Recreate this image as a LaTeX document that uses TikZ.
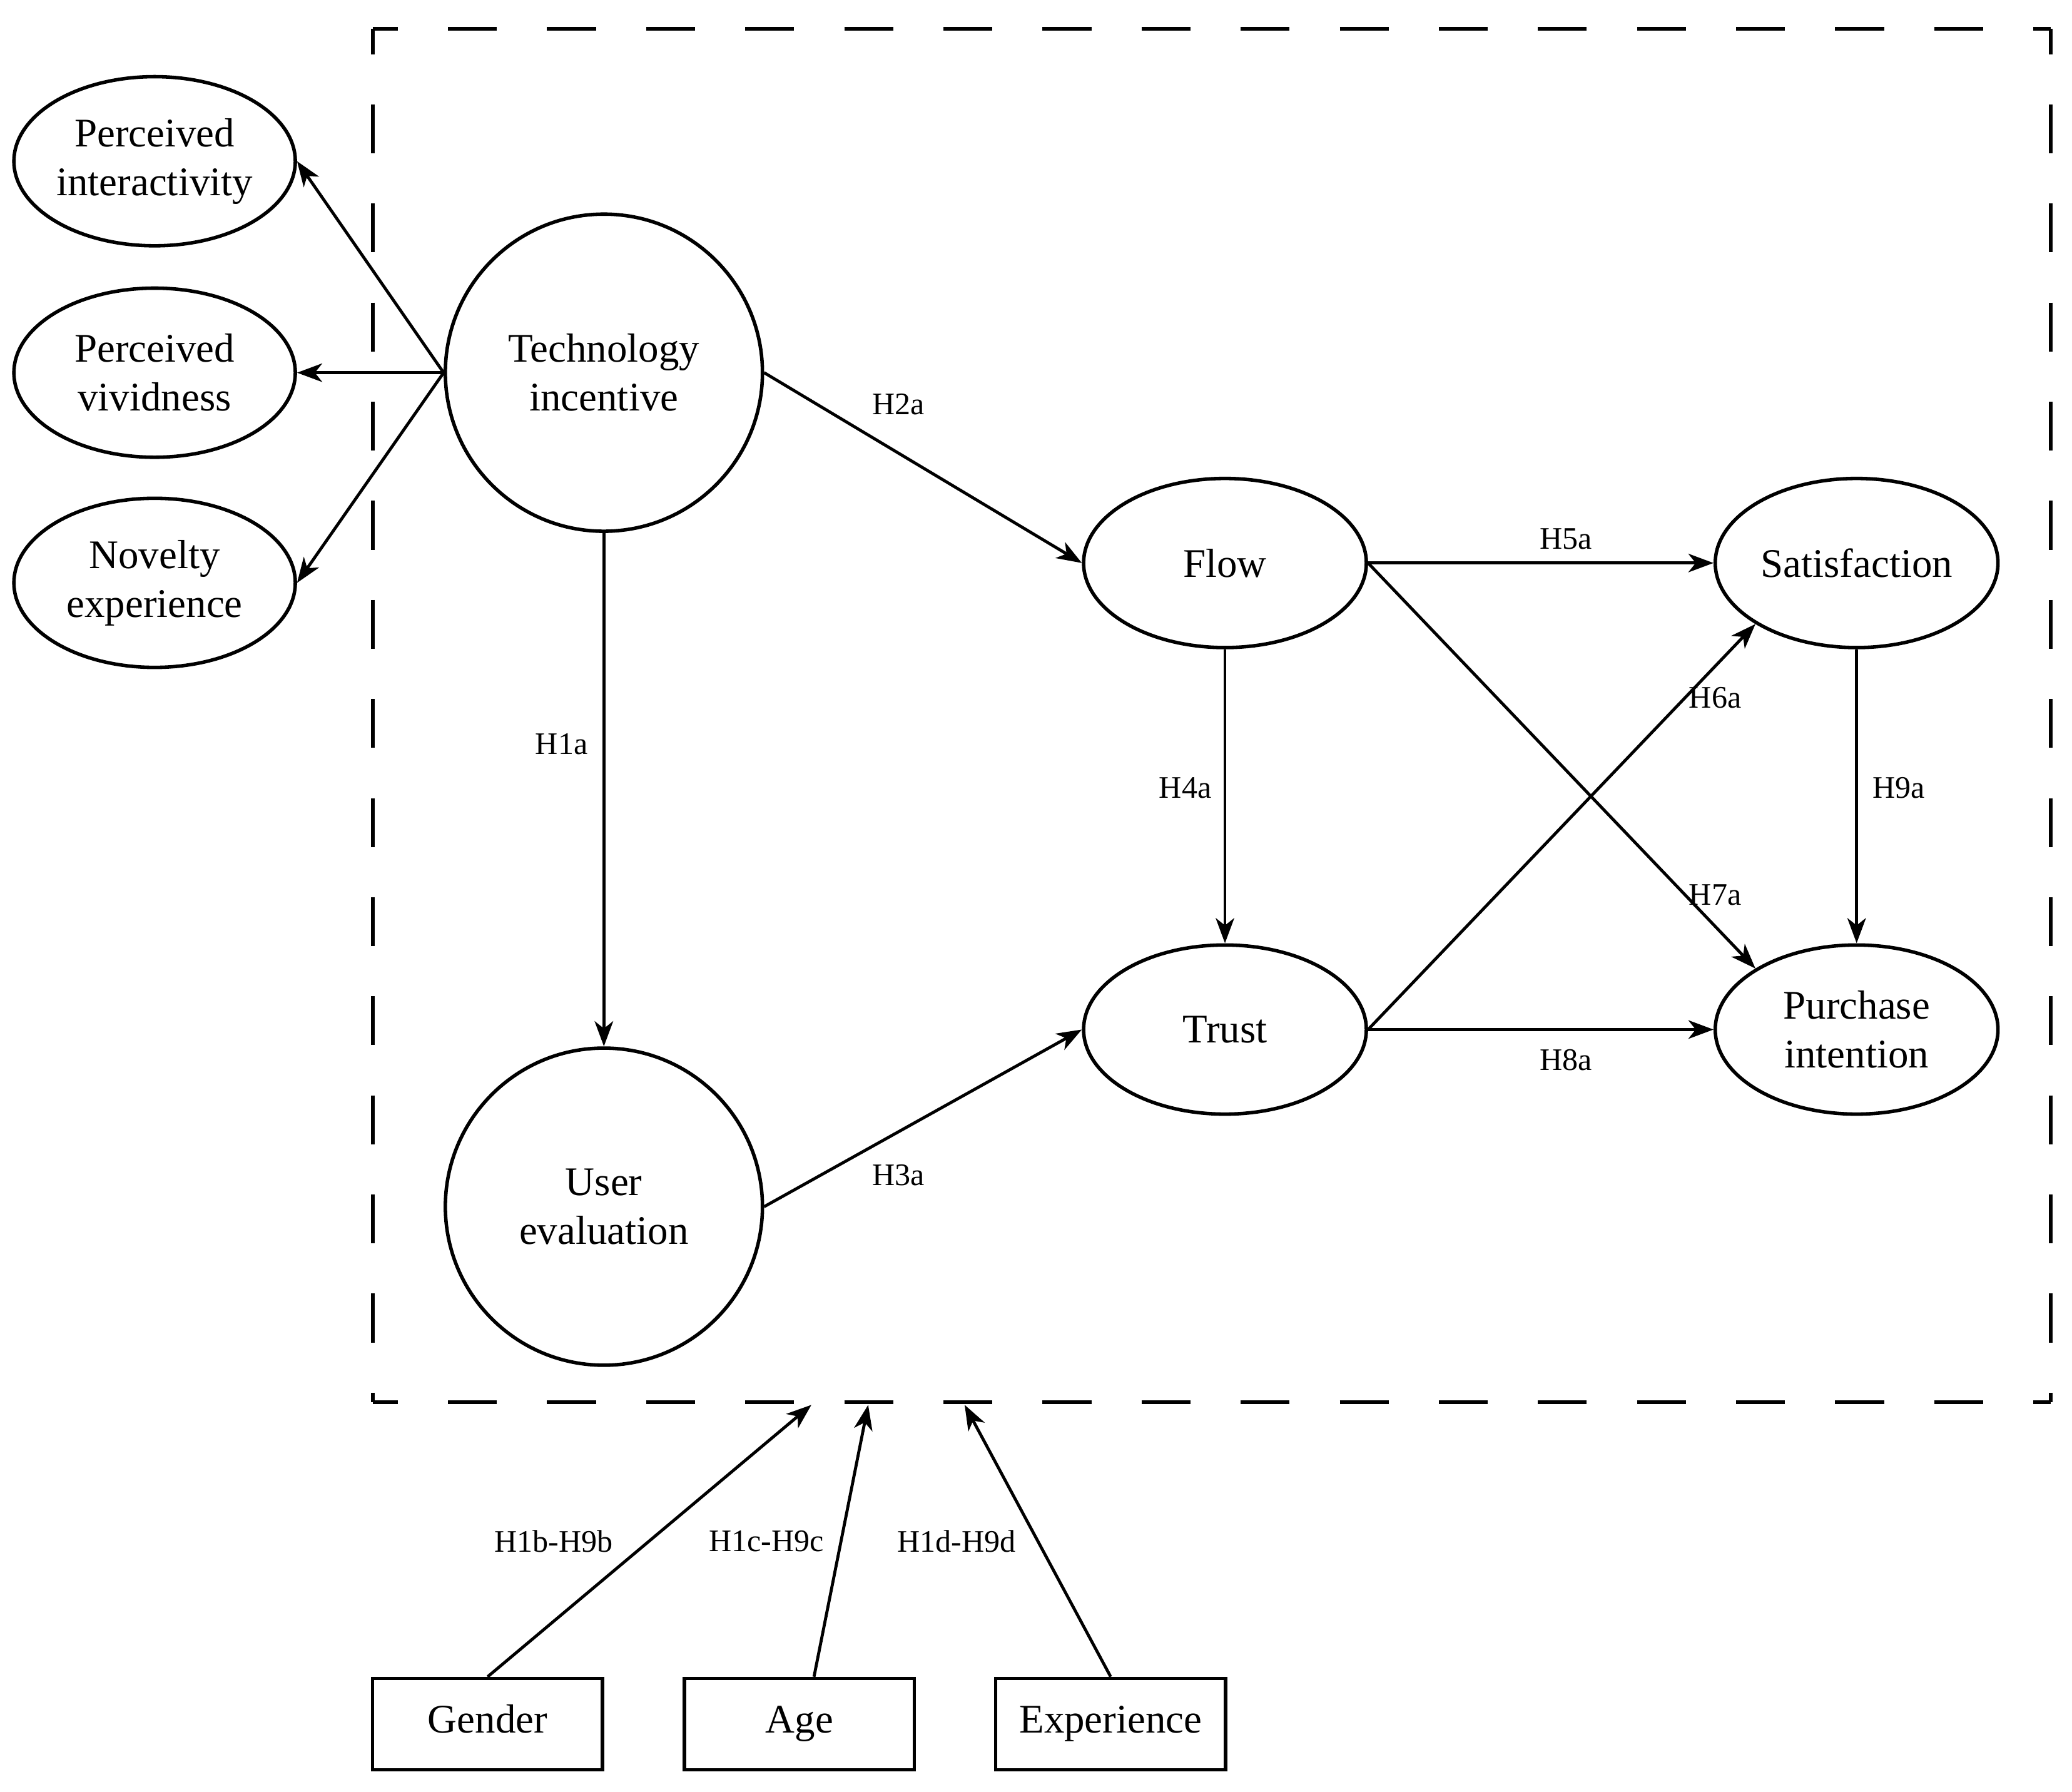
\documentclass[tikz,border=0pt]{standalone}
\usepackage{fontspec}
\setmainfont{Liberation Serif}
\usetikzlibrary{arrows.meta,shapes.geometric,calc}
\begin{document}
\begin{tikzpicture}[x=0.02cm,y=-0.02cm,
  mainfont/.style={font=\fontsize{17.5}{21}\selectfont},
  lat/.style={draw,ellipse,line width=1.5pt,minimum width=4.26cm,minimum height=2.56cm,inner sep=0pt,align=center,mainfont},
  bigc/.style={draw,circle,line width=1.5pt,minimum size=4.8cm,inner sep=0pt,align=center,mainfont},
  modbox/.style={draw,rectangle,line width=1.5pt,minimum width=3.48cm,minimum height=1.38cm,inner sep=0pt,text height=0.85em,text depth=0.09em,mainfont},
  arr/.style={-{Stealth[length=0.38cm,width=0.28cm,inset=0.11cm]},line width=1.3pt},
  hlab/.style={font=\fontsize{13.5}{16}\selectfont,inner sep=0pt},
  dashside/.style={line width=1.6pt,dash pattern=on 0.74cm off 0.76cm,dash phase=0.36cm}
]
\useasboundingbox (0,0) rectangle (1568,1355.5);

% dashed frame
\coordinate (tl) at (282,22);
\coordinate (tr) at (1552,22);
\coordinate (bl) at (282,1061);
\coordinate (br) at (1552,1061);
\draw[dashside] (tl) -- (tr);
\draw[dashside] (tl) -- (bl);
\draw[dashside] (bl) -- (br);
\draw[dashside] (tr) -- (br);

% nodes
\node[lat] (pi) at (117,122) {Perceived\\interactivity};
\node[lat] (pv) at (117,282) {Perceived\\vividness};
\node[lat] (ne) at (117,441) {Novelty\\experience};
\node[bigc] (ti) at (457,282) {Technology\\incentive};
\node[bigc] (ue) at (457,913) {User\\evaluation};
\node[lat,minimum width=4.28cm] (flow) at (927,426) {Flow};
\node[lat,minimum width=4.28cm] (trust) at (927,779) {Trust};
\node[lat,minimum width=4.28cm] (sat) at (1405,426) {Satisfaction};
\node[lat,minimum width=4.28cm] (pint) at (1405,779) {Purchase\\intention};
\node[modbox] (gen) at (369,1304.5) {Gender};
\node[modbox] (age) at (605,1304.5) {Age};
\node[modbox] (exp) at (840.5,1304.5) {Experience};

% connectors
\draw[arr] (ti.west) -- (pi.east);
\draw[arr] (ti.west) -- (pv.east);
\draw[arr] (ti.west) -- (ne.east);
\draw[arr] (ti.east) -- (flow.west);
\draw[arr] (ti.south) -- (ue.north);
\draw[arr] (ue.east) -- (trust.west);
\draw[arr] (flow.south) -- (trust.north);
\draw[arr] (flow.east) -- (sat.west);
\draw[arr] (flow.east) -- (pint.north west);
\draw[arr] (trust.east) -- (sat.south west);
\draw[arr] (trust.east) -- (pint.west);
\draw[arr] (sat.south) -- (pint.north);

\coordinate (m1) at (614,1063);
\coordinate (m2) at (657,1063);
\coordinate (m3) at (730,1063);
\draw[arr] (gen.north) -- (m1);
\draw[arr] ([xshift=0.22cm]age.north) -- (m2);
\draw[arr] (exp.north) -- (m3);

% labels
\node[hlab] (l2a) at (680,306) {H2a};
\node[hlab] (l1a) at (425,563) {H1a};
\node[hlab] (l3a) at (680,889) {H3a};
\node[hlab] (l4a) at (897,596) {H4a};
\node[hlab] (l5a) at (1185,408) {H5a};
\node[hlab] (l6a) at (1298,528) {H6a};
\node[hlab] (l7a) at (1298,677) {H7a};
\node[hlab] (l8a) at (1185,802) {H8a};
\node[hlab] (l9a) at (1437,596) {H9a};
\node[hlab] (lb) at (419,1166) {H1b-H9b};
\node[hlab] (lc) at (580,1166) {H1c-H9c};
\node[hlab] (ld) at (724,1166) {H1d-H9d};
\end{tikzpicture}
\end{document}
